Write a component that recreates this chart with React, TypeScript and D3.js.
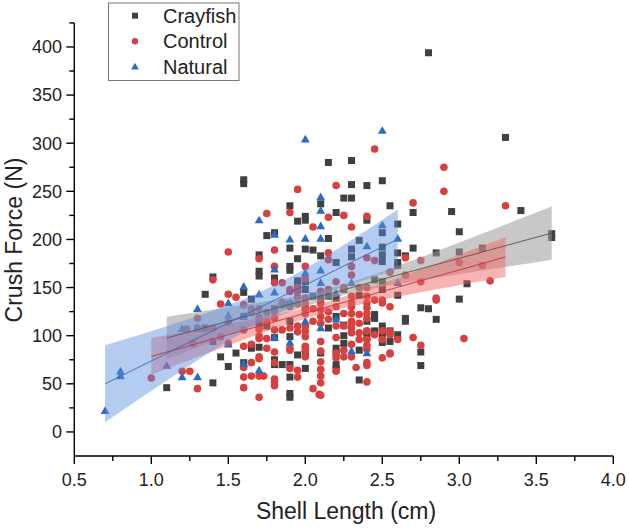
import React from "react";
import * as d3 from "d3";

const crayfish: [number, number][] = [
  [1.1,46],[1.35,143],[1.35,108],[1.4,161],[1.4,94],[1.4,51],[1.45,78],[1.5,68],[1.55,82],
  [1.6,262],[1.6,258],[1.6,145],[1.6,120],[1.6,72],[1.65,138],[1.65,87],
  [1.7,184],[1.7,167],[1.7,162],[1.7,112],[1.7,88],[1.75,204],[1.75,110],
  [1.8,207],[1.8,160],[1.8,128],[1.8,98],[1.8,75],[1.8,70],[1.8,52],[1.85,70],
  [1.9,235],[1.9,191],[1.9,172],[1.9,168],[1.9,133],[1.9,115],[1.9,99],[1.9,70],[1.9,57],[1.9,40],[1.9,36],
  [1.95,219],[1.95,180],[1.95,157],[1.95,155],[1.95,80],
  [2.0,224],[2.0,220],[2.0,190],[2.0,156],[2.0,148],[2.0,130],[2.0,87],[2.0,81],[2.0,66],
  [2.05,189],[2.05,141],[2.1,237],[2.1,183],[2.1,139],[2.1,82],
  [2.15,280],[2.15,201],[2.15,141],[2.15,108],
  [2.2,228],[2.2,176],[2.2,139],[2.2,120],[2.2,87],[2.2,82],[2.2,70],[2.2,65],
  [2.25,243],[2.25,148],[2.25,111],[2.25,100],[2.25,92],
  [2.3,282],[2.3,257],[2.3,243],[2.3,190],[2.3,182],
  [2.35,199],[2.35,142],[2.35,85],[2.35,54],
  [2.4,256],[2.4,220],[2.4,115],[2.4,104],[2.4,99],
  [2.45,158],[2.45,122],[2.45,118],[2.45,105],
  [2.5,261],[2.5,207],[2.5,192],[2.5,184],[2.5,177],[2.5,156],[2.5,148],[2.5,110],[2.5,104],[2.5,99],[2.5,93],
  [2.55,235],[2.55,105],[2.55,94],
  [2.6,216],[2.6,186],[2.6,176],[2.6,173],[2.6,142],[2.6,101],
  [2.65,183],[2.65,118],[2.65,115],[2.7,228],[2.7,191],
  [2.75,129],[2.75,83],[2.75,69],[2.8,394],[2.8,128],[2.85,186],[2.85,117],
  [2.95,229],[3.0,208],[3.0,187],[3.0,138],[3.05,154],[3.15,191],[3.3,306],[3.4,230],[3.6,206],[3.6,202],
];

const control: [number, number][] = [
  [1.0,56],[1.2,63],[1.23,107],[1.25,63],[1.27,92],[1.3,118],[1.3,108],[1.3,45],
  [1.4,158],[1.4,108],[1.45,133],[1.45,99],[1.5,187],[1.5,143],[1.5,114],[1.5,92],[1.55,140],
  [1.6,132],[1.6,106],[1.6,89],[1.6,67],[1.6,57],[1.6,46],
  [1.65,128],[1.65,124],[1.65,91],[1.65,72],[1.65,58],
  [1.7,180],[1.7,128],[1.7,119],[1.7,107],[1.7,100],[1.7,97],[1.7,78],[1.7,76],[1.7,58],[1.7,36],[1.73,58],
  [1.75,227],[1.75,124],[1.75,115],[1.75,97],[1.75,87],
  [1.8,189],[1.8,172],[1.8,155],[1.8,125],[1.8,118],[1.8,106],[1.8,83],[1.8,72],[1.8,55],[1.8,52],[1.8,48],
  [1.85,155],[1.85,135],[1.85,132],[1.85,106],
  [1.9,228],[1.9,148],[1.9,146],[1.9,130],[1.9,108],[1.9,87],[1.9,85],[1.9,66],
  [1.95,252],[1.95,150],[1.95,146],[1.95,140],[1.95,133],[1.95,110],[1.95,104],[1.95,64],[1.95,57],
  [2.0,172],[2.0,159],[2.0,139],[2.0,133],[2.0,128],[2.0,123],[2.0,110],[2.0,105],[2.0,99],[2.0,89],[2.0,85],[2.0,78],
  [2.05,213],[2.05,128],[2.05,115],[2.05,45],[2.09,39],
  [2.1,146],[2.1,134],[2.1,127],[2.1,120],[2.1,113],[2.1,94],[2.1,84],[2.1,73],[2.1,65],[2.1,58],[2.1,51],[2.1,38],
  [2.15,223],[2.15,186],[2.15,179],[2.15,148],[2.15,125],[2.15,117],
  [2.2,256],[2.2,156],[2.2,130],[2.2,110],[2.2,98],[2.2,82],[2.2,77],[2.2,63],
  [2.25,225],[2.25,150],[2.25,123],[2.25,110],[2.25,85],[2.25,78],
  [2.3,213],[2.3,172],[2.3,163],[2.3,141],[2.3,134],[2.3,130],[2.3,123],[2.3,115],[2.3,113],[2.3,108],[2.3,103],[2.3,91],[2.3,78],
  [2.33,67],[2.35,150],[2.35,122],[2.35,113],[2.35,103],[2.35,96],
  [2.4,224],[2.4,181],[2.4,150],[2.4,141],[2.4,134],[2.4,129],[2.4,123],[2.4,118],[2.4,105],[2.4,96],[2.4,90],[2.4,86],[2.4,72],[2.4,69],[2.4,52],
  [2.45,294],[2.45,178],[2.45,137],[2.45,101],
  [2.5,137],[2.5,134],[2.5,105],[2.5,96],[2.5,77],
  [2.55,166],[2.55,130],[2.55,104],[2.55,101],[2.55,82],[2.55,81],
  [2.6,96],[2.65,181],[2.65,163],[2.7,238],[2.7,98],[2.75,178],[2.75,156],[2.75,90],
  [2.85,139],[2.85,137],[2.9,275],[2.9,250],[3.0,176],[3.03,97],[3.15,173],[3.2,157],[3.3,235],
];

const natural: [number, number][] = [
  [0.7,22],[0.8,63],[0.8,58],[1.1,69],[1.2,107],[1.2,57],[1.3,128],[1.3,107],[1.3,57],
  [1.5,134],[1.5,121],[1.5,91],[1.6,151],[1.6,120],[1.6,71],[1.7,220],[1.7,143],[1.7,64],
  [1.8,205],[1.8,169],[1.8,145],[1.8,98],[1.9,200],[1.9,134],[1.9,93],
  [2.0,304],[2.0,201],[2.0,165],[2.0,115],
  [2.1,244],[2.1,230],[2.1,214],[2.1,201],[2.1,168],[2.1,155],[2.1,108],
  [2.2,144],[2.2,117],[2.3,155],[2.3,84],[2.4,193],[2.4,82],[2.5,313],[2.5,215],[2.6,201],[2.6,155],
];

// fitted lines and 95% bands
const crayfishBandX = [1.1, 1.6, 2.1, 2.6, 3.1, 3.6];
const crayfishFit = [97.6, 119.4, 141.2, 163, 184.8, 206.6];
const crayfishLo = [75.6, 106.6, 135.6, 153.6, 166.5, 178.9];
const crayfishHi = [119.6, 132.2, 146.8, 172.4, 203.1, 234.3];

const controlBandX = [1.0, 1.5, 2.0, 2.5, 3.0, 3.3];
const controlFit = [78.5, 101, 123.4, 145.9, 168.3, 181.8];
const controlLo = [59.5, 89.7, 117.7, 137.3, 152.4, 161.2];
const controlHi = [97.5, 112.3, 129.1, 154.5, 184.2, 202.4];

const naturalBandX = [0.7, 1.1, 1.5, 1.9, 2.3, 2.6];
const naturalFit = [50, 81.6, 113.2, 144.8, 176.4, 200.1];
const naturalLo = [10, 53.4, 94.6, 128.8, 153.5, 169.1];
const naturalHi = [90, 109.8, 131.8, 160.8, 199.3, 231.1];

const xMajor = [0.5, 1.0, 1.5, 2.0, 2.5, 3.0, 3.5, 4.0];
const xMinor = [0.75, 1.25, 1.75, 2.25, 2.75, 3.25, 3.75];
const yMajor = [0, 50, 100, 150, 200, 250, 300, 350, 400];
const yMinor = [25, 75, 125, 175, 225, 275, 325, 375, 425];

const legendNames = ["Crayfish", "Control", "Natural"];

const GRAY = "#404040";
const RED = "#d6403f";
const BLUE = "#2a6cc2";
const FONT = "'Liberation Sans', Arial, sans-serif";

export default function App() {
  const x = d3.scaleLinear().domain([0.5, 4.0]).range([74.3, 613.3]);
  const y = d3.scaleLinear().domain([-25, 425]).range([456, 22.9]);

  const area = (xs: number[], lo: number[], hi: number[]) =>
    d3
      .area<number>()
      .x((_, i) => x(xs[i]))
      .y0((_, i) => y(lo[i]))
      .y1((_, i) => y(hi[i]))
      .curve(d3.curveNatural)(xs) || "";
  const line = (xs: number[], ys: number[]) =>
    d3
      .line<number>()
      .x((_, i) => x(xs[i]))
      .y((_, i) => y(ys[i]))
      .curve(d3.curveLinear)(xs) || "";

  const tri = d3.symbol().type(d3.symbolTriangle).size(34)() || "";
  const triL = d3.symbol().type(d3.symbolTriangle).size(26)() || "";

  return (
    <svg
      width={629}
      height={529}
      style={{ position: "absolute", left: 0, top: 0, background: "#fff" }}
      fontFamily={FONT}
    >
      <rect width={629} height={529} fill="#fff" />
      {/* points */}
      {crayfish.map((d, i) => (
        <rect key={"c" + i} x={x(d[0]) - 3.5} y={y(d[1]) - 3.5} width={7} height={7} fill={GRAY} />
      ))}
      {control.map((d, i) => (
        <circle key={"r" + i} cx={x(d[0])} cy={y(d[1])} r={3.8} fill={RED} />
      ))}
      {natural.map((d, i) => (
        <path key={"n" + i} d={tri} transform={`translate(${x(d[0])},${y(d[1]) + 0.6})`} fill={BLUE} />
      ))}
      {/* bands */}
      <path d={area(crayfishBandX, crayfishLo, crayfishHi)} fill="#9a9a9a" fillOpacity={0.55} />
      <path d={area(controlBandX, controlLo, controlHi)} fill="#f06060" fillOpacity={0.48} />
      <path d={area(naturalBandX, naturalLo, naturalHi)} fill="#5b8fe0" fillOpacity={0.45} />
      <path d={line(crayfishBandX, crayfishFit)} stroke="#555" strokeWidth={0.9} fill="none" />
      <path d={line(controlBandX, controlFit)} stroke="#b83a3a" strokeWidth={0.9} fill="none" />
      <path d={line(naturalBandX, naturalFit)} stroke="#3a66b0" strokeWidth={0.9} fill="none" />

      {/* axes */}
      <g stroke="#000" strokeWidth={1.4}>
        <line x1={x(0.5)} x2={x(0.5)} y1={y(425)} y2={y(-25)} />
        <line x1={x(0.5)} x2={x(4.0)} y1={y(-25)} y2={y(-25)} />
        {xMajor.map((t) => (
          <line key={"xM" + t} x1={x(t)} x2={x(t)} y1={y(-25)} y2={y(-25) + 8} />
        ))}
        {xMinor.map((t) => (
          <line key={"xm" + t} x1={x(t)} x2={x(t)} y1={y(-25)} y2={y(-25) + 5} />
        ))}
        {yMajor.map((t) => (
          <line key={"yM" + t} x1={x(0.5) - 8} x2={x(0.5)} y1={y(t)} y2={y(t)} />
        ))}
        {yMinor.map((t) => (
          <line key={"ym" + t} x1={x(0.5) - 5} x2={x(0.5)} y1={y(t)} y2={y(t)} />
        ))}
      </g>
      <g fontSize={18} fill="#222">
        {xMajor.map((t) => (
          <text key={"xl" + t} x={x(t)} y={486} textAnchor="middle">
            {t.toFixed(1)}
          </text>
        ))}
        {yMajor.map((t) => (
          <text key={"yl" + t} x={62} y={y(t) + 6.3} textAnchor="end">
            {t}
          </text>
        ))}
      </g>
      <text x={346} y={519} textAnchor="middle" fontSize={23} fill="#222">
        Shell Length (cm)
      </text>
      <text transform="translate(22,240) rotate(-90)" textAnchor="middle" fontSize={23} fill="#222">
        Crush Force (N)
      </text>

      {/* legend */}
      <rect x={108.5} y={3} width={130.5} height={77.5} fill="#fff" stroke="#777" strokeWidth={1} />
      {legendNames.map((name, i) => {
        const cy = 15.7 + i * 25.5;
        return (
          <g key={name}>
            {i === 0 && <rect x={132} y={cy - 3} width={6} height={6} fill={GRAY} />}
            {i === 1 && <circle cx={135} cy={cy} r={3.2} fill={RED} />}
            {i === 2 && <path d={triL} transform={`translate(135,${cy + 0.5})`} fill={BLUE} />}
            <text x={163} y={cy + 7} fontSize={20} fill="#222">
              {name}
            </text>
          </g>
        );
      })}
    </svg>
  );
}
